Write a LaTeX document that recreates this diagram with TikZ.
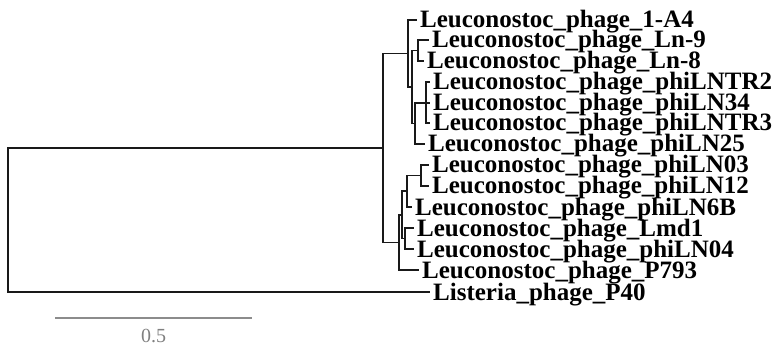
\documentclass[tikz,border=0pt]{standalone}
\usepackage{fontspec}
\setmainfont{Liberation Serif}
\begin{document}
\begin{tikzpicture}[x=1pt,y=-1pt,
  branch/.style={line width=1.9pt, draw=black!90},
  leaf/.style={anchor=base west, inner sep=0pt, xshift=3pt, yshift=-8pt,
    font=\fontsize{25}{25}\selectfont\bfseries},
  scalebar/.style={line width=2.4pt, draw=black!45},
  scaletext/.style={inner sep=0pt, text=black!50, font=\fontsize{20}{20}\selectfont}]
\useasboundingbox (0,0) rectangle (775,347);
% internal nodes
\coordinate (R)   at (8,220);
\coordinate (I)   at (383,148);
\coordinate (A)   at (408,53.5);
\coordinate (Ap)  at (412,87);
\coordinate (LnP) at (418,50.5);
\coordinate (App) at (415,123.5);
\coordinate (TR)  at (426,103);
\coordinate (B)   at (399,242.5);
\coordinate (Bp)  at (402,215);
\coordinate (B1)  at (407,191);
\coordinate (P03) at (421,175.5);
\coordinate (B2)  at (405,238.5);
% tips
\coordinate (t1)  at (417,20);
\coordinate (t2)  at (429,40);
\coordinate (t3)  at (424,61);
\coordinate (t4)  at (430,82);
\coordinate (t5)  at (430,103);
\coordinate (t6)  at (430,123);
\coordinate (t7)  at (425,144);
\coordinate (t8)  at (429,165);
\coordinate (t9)  at (429,186);
\coordinate (t10) at (412,207);
\coordinate (t11) at (414,228);
\coordinate (t12) at (414,249);
\coordinate (t13) at (419,270);
\coordinate (t14) at (430,292);
% labels
\node[leaf] (n1)  at (t1)  {Leuconostoc\_phage\_1-A4};
\node[leaf] (n2)  at (t2)  {Leuconostoc\_phage\_Ln-9};
\node[leaf] (n3)  at (t3)  {Leuconostoc\_phage\_Ln-8};
\node[leaf] (n4)  at (t4)  {Leuconostoc\_phage\_phiLNTR2};
\node[leaf] (n5)  at (t5)  {Leuconostoc\_phage\_phiLN34};
\node[leaf] (n6)  at (t6)  {Leuconostoc\_phage\_phiLNTR3};
\node[leaf] (n7)  at (t7)  {Leuconostoc\_phage\_phiLN25};
\node[leaf] (n8)  at (t8)  {Leuconostoc\_phage\_phiLN03};
\node[leaf] (n9)  at (t9)  {Leuconostoc\_phage\_phiLN12};
\node[leaf] (n10) at (t10) {Leuconostoc\_phage\_phiLN6B};
\node[leaf] (n11) at (t11) {Leuconostoc\_phage\_Lmd1};
\node[leaf] (n12) at (t12) {Leuconostoc\_phage\_phiLN04};
\node[leaf] (n13) at (t13) {Leuconostoc\_phage\_P793};
\node[leaf] (n14) at (t14) {Listeria\_phage\_P40};
% branches
\draw[branch] (R) |- (I);
\draw[branch] (R) |- (t14);
\draw[branch] (I) |- (A);
\draw[branch] (I) |- (B);
\draw[branch] (A) |- (t1);
\draw[branch] (A) |- (Ap);
\draw[branch] (Ap) |- (LnP);
\draw[branch] (Ap) |- (App);
\draw[branch] (LnP) |- (t2);
\draw[branch] (LnP) |- (t3);
\draw[branch] (App) |- (TR);
\draw[branch] (App) |- (t7);
\draw[branch] (TR) |- (t4);
\draw[branch] (TR) -- (t5);
\draw[branch] (TR) |- (t6);
\draw[branch] (B) |- (Bp);
\draw[branch] (B) |- (t13);
\draw[branch] (Bp) |- (B1);
\draw[branch] (Bp) |- (B2);
\draw[branch] (B1) |- (P03);
\draw[branch] (B1) |- (t10);
\draw[branch] (P03) |- (t8);
\draw[branch] (P03) |- (t9);
\draw[branch] (B2) |- (t11);
\draw[branch] (B2) |- (t12);
% scale bar
\coordinate (s1) at (55,318);
\coordinate (s2) at (252,318);
\draw[scalebar] (s1) -- (s2);
\node[scaletext] (sbl) at (153.5,336) {0.5};
\end{tikzpicture}
\end{document}
